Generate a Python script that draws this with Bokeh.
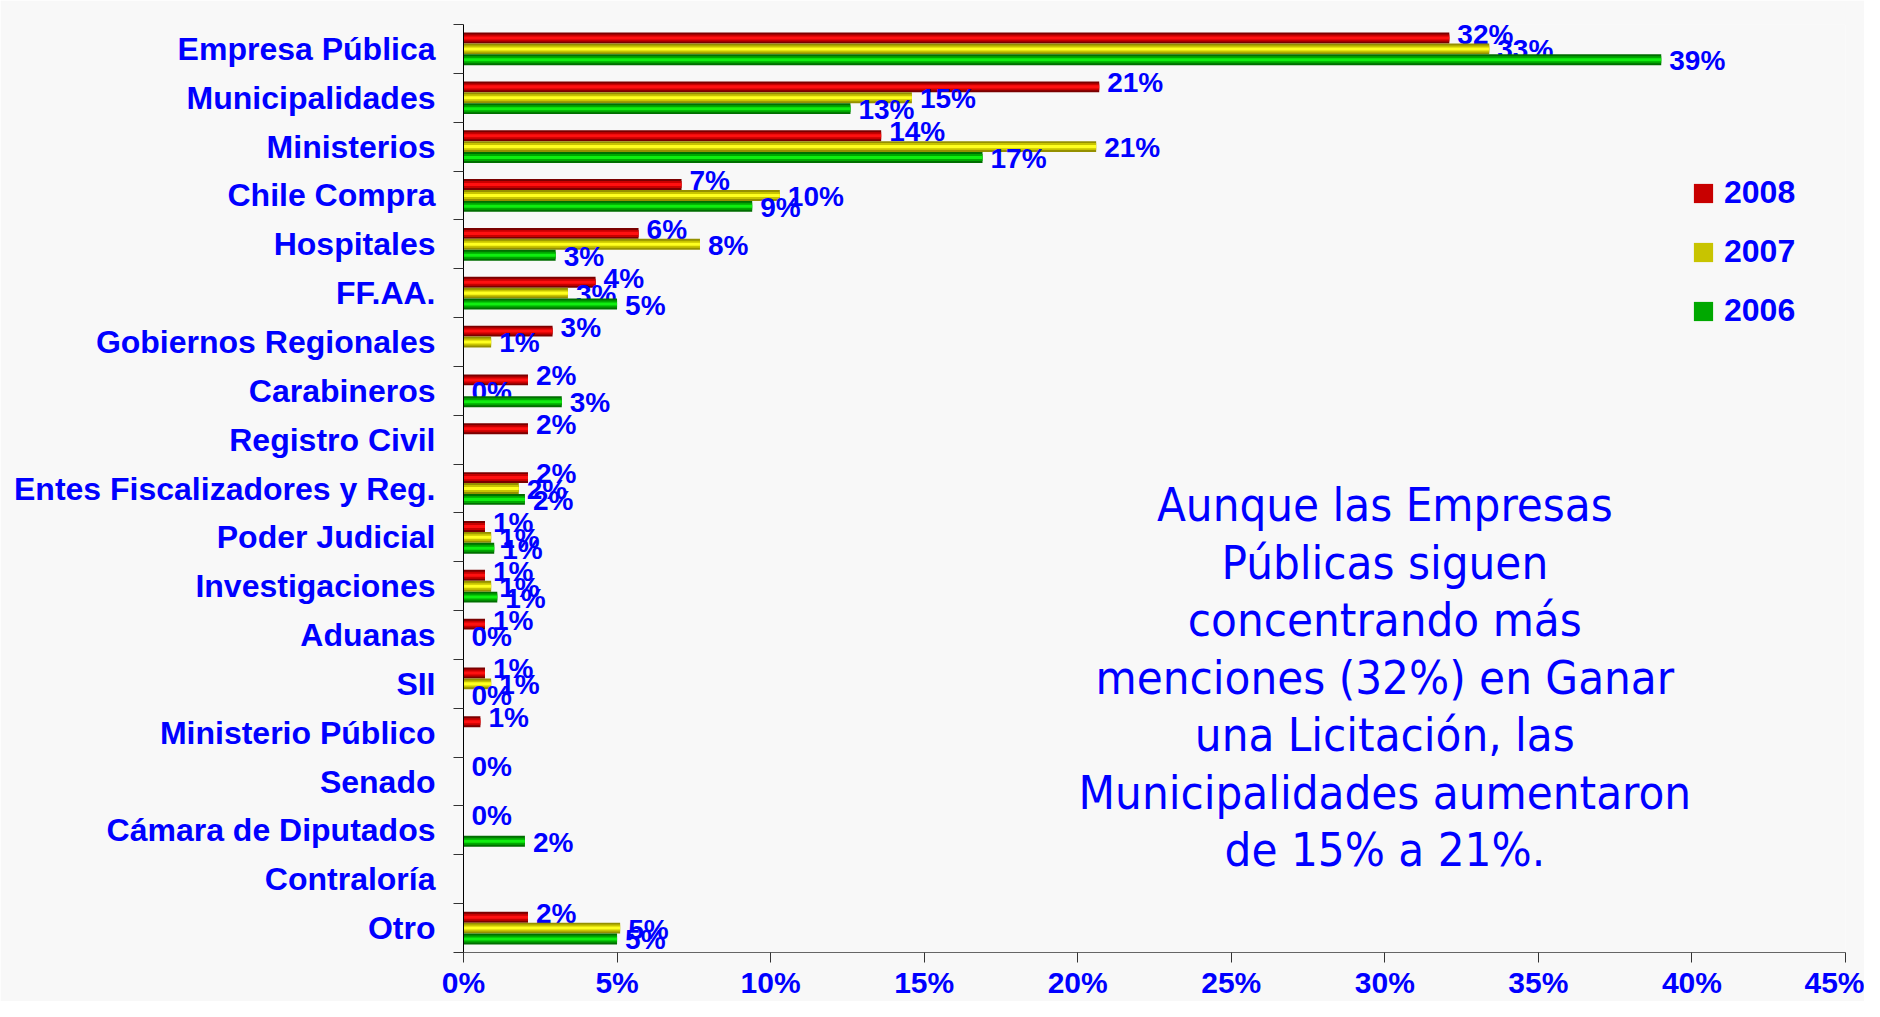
from bokeh.plotting import figure
from bokeh.models import (Range1d, FixedTicker, LinearAxis, ColumnDataSource,
                          Legend, LegendItem)
from bokeh.core.properties import value
from bokeh.embed import file_html
from bokeh.resources import INLINE

# ---------------- data ----------------
categories = ["Empresa Pública", "Municipalidades", "Ministerios", "Chile Compra",
              "Hospitales", "FF.AA.", "Gobiernos Regionales", "Carabineros",
              "Registro Civil", "Entes Fiscalizadores y Reg.", "Poder Judicial",
              "Investigaciones", "Aduanas", "SII", "Ministerio Público", "Senado",
              "Cámara de Diputados", "Contraloría", "Otro"]
years = ["2008", "2007", "2006"]
v2008 = [32.1, 20.7, 13.6, 7.1, 5.7, 4.3, 2.9, 2.1, 2.1, 2.1, 0.7, 0.7, 0.7, 0.7, 0.55, 0.0, 0.0, None, 2.1]
v2007 = [33.4, 14.6, 20.6, 10.3, 7.7, 3.4, 0.9, 0.0, None, 1.8, 0.9, 0.9, 0.0, 0.9, None, None, None, None, 5.1]
v2006 = [39.0, 12.6, 16.9, 9.4, 3.0, 5.0, None, 3.2, None, 2.0, 1.0, 1.1, None, 0.0, None, None, 2.0, None, 5.0]
x_ticks = [0, 5, 10, 15, 20, 25, 30, 35, 40, 45]
note_lines = ["Aunque las Empresas", "Públicas siguen", "concentrando más",
              "menciones (32%) en Ganar", "una Licitación, las",
              "Municipalidades aumentaron", "de 15% a 21%."]

# ---------------- style ----------------
BG = "#f8f8f8"
BLUE = "#0000ff"
BOLD_FONT = value("Liberation Sans")
NOTE_FONT = value("DejaVu Sans Condensed")
series_colors = {
    "2008": ("#7a0000", "#c80000", "#ff1010"),
    "2007": ("#959000", "#c8c400", "#ffff20"),
    "2006": ("#006e00", "#00a800", "#10ee10"),
}
BAR_H = 0.223
offsets = [-BAR_H, 0.0, BAR_H]
label_dy = [-4, 1, 1]

N = len(categories)
p = figure(width=1864, height=1001, output_backend="svg", toolbar_location=None,
           x_range=Range1d(0, 45), y_range=Range1d(N - 0.5, -0.5),
           min_border_left=463, min_border_right=19, min_border_top=24,
           min_border_bottom=49, background_fill_color=BG, border_fill_color=BG,
           outline_line_color=None, y_axis_location=None)
p.grid.visible = False

# x axis
xa = p.xaxis[0]
xa.ticker = FixedTicker(ticks=x_ticks)
xa.major_label_overrides = {t: f"{t}%" for t in x_ticks}
xa.major_label_text_font = "Liberation Sans"
xa.major_label_text_font_style = "bold"
xa.major_label_text_font_size = "30px"
xa.major_label_text_color = BLUE
xa.major_label_standoff = 3
xa.major_tick_out = 10
xa.major_tick_in = 0
xa.minor_tick_line_color = None
xa.axis_line_color = "#666666"
xa.major_tick_line_color = "#333333"

# y axis: ticks between categories + labelled axis
bounds = [i - 0.5 for i in range(N + 1)]
tick_axis = LinearAxis(ticker=FixedTicker(ticks=bounds),
                       major_label_overrides={b: "" for b in bounds},
                       major_tick_out=10, major_tick_in=0, major_label_standoff=0,
                       axis_line_color="black", major_tick_line_color="#333333",
                       minor_tick_line_color=None)
label_axis = LinearAxis(ticker=FixedTicker(ticks=list(range(N))),
                        major_label_overrides={i: c for i, c in enumerate(categories)},
                        major_tick_line_color=None, major_tick_out=0, major_tick_in=0,
                        axis_line_color=None, minor_tick_line_color=None,
                        major_label_standoff=18,
                        major_label_text_font="Liberation Sans",
                        major_label_text_font_style="bold",
                        major_label_text_font_size="32px",
                        major_label_text_color=BLUE)
p.add_layout(tick_axis, "left")
p.add_layout(label_axis, "left")

# bars
legend_items = []
for k, (yr, vals) in enumerate(zip(years, [v2008, v2007, v2006])):
    idx = [i for i, v in enumerate(vals) if v is not None]
    src = ColumnDataSource(dict(
        y=[i + offsets[k] for i in idx],
        right=[vals[i] for i in idx],
        label=[f"{vals[i]:.0f}%" for i in idx],
    ))
    dark, mid, bright = series_colors[yr]
    p.hbar(y="y", left=0, right="right", height=BAR_H, source=src,
           fill_color=dark, line_color=None)
    r_mid = p.hbar(y="y", left=0, right="right", height=BAR_H * 0.64, source=src,
                   fill_color=mid, line_color=None)
    p.hbar(y="y", left=0, right="right", height=BAR_H * 0.28, source=src,
           fill_color=bright, line_color=None)
    p.text(x="right", y="y", text="label", source=src, x_offset=8, y_offset=label_dy[k],
           text_align="left", text_baseline="middle", text_font=BOLD_FONT,
           text_font_style="bold", text_font_size="28px", text_color=BLUE)
    legend_items.append(LegendItem(label=yr, renderers=[r_mid]))

legend = Legend(items=legend_items, location=(1228, 623), glyph_width=24,
                glyph_height=24, label_standoff=9, spacing=22, padding=10,
                background_fill_alpha=0, border_line_color=None,
                label_text_font="Liberation Sans", label_text_font_style="bold",
                label_text_font_size="32px", label_text_color=BLUE)
p.add_layout(legend)

# note text
note_src = ColumnDataSource(dict(x=[30.0] * len(note_lines),
                                 y=[9.33 + 1.177 * k for k in range(len(note_lines))],
                                 text=note_lines))
p.text(x="x", y="y", text="text", source=note_src, text_align="center",
       text_baseline="alphabetic", text_font=NOTE_FONT, text_font_size="47px",
       text_color=BLUE)

open("out.html", "w").write(file_html(p, INLINE))
